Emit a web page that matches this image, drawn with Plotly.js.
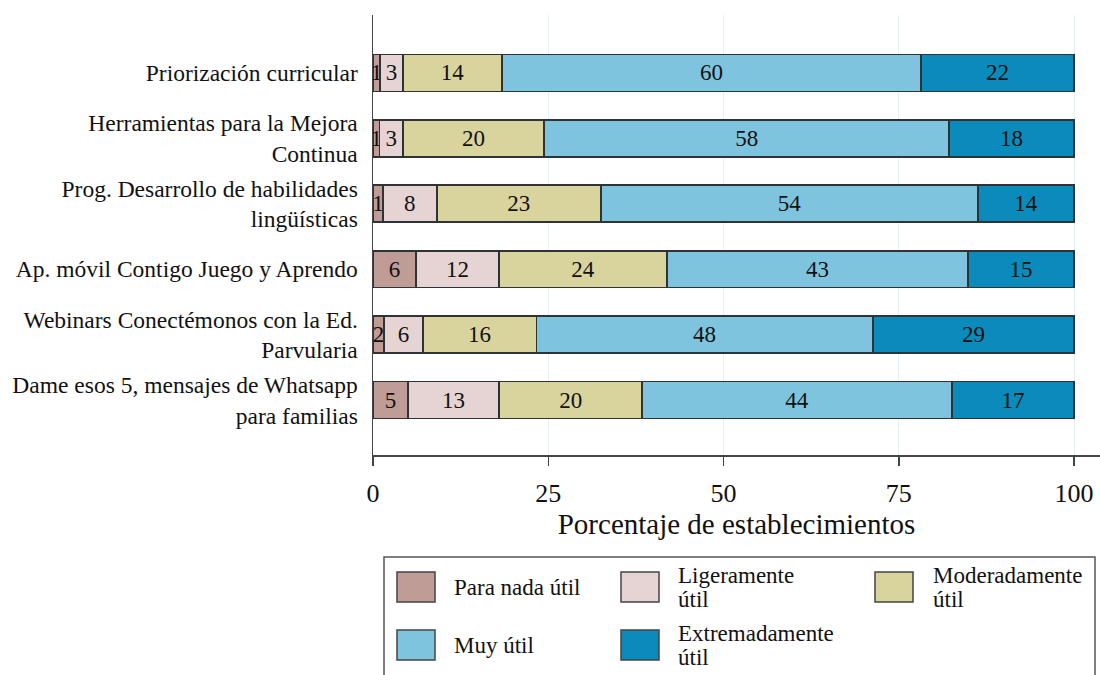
<!DOCTYPE html>
<html>
<head>
<meta charset="utf-8">
<script src="https://cdn.plot.ly/plotly-3.0.1.min.js"></script>
<style>html,body{margin:0;padding:0;background:#fff;}#chart{width:1100px;height:675px;}</style>
</head>
<body>
<div id="chart"></div>
<script>
// ---- data ----
var categories = [
  "Priorización curricular",
  "Herramientas para la Mejora<br>Continua",
  "Prog. Desarrollo de habilidades<br>lingüísticas",
  "Ap. móvil Contigo Juego y Aprendo",
  "Webinars Conectémonos con la Ed.<br>Parvularia",
  "Dame esos 5, mensajes de Whatsapp<br>para familias"
];
var seriesNames = ["Para nada útil", "Ligeramente útil", "Moderadamente útil", "Muy útil", "Extremadamente útil"];
var legendLabels = [["Para nada útil"], ["Ligeramente", "útil"], ["Moderadamente", "útil"], ["Muy útil"], ["Extremadamente", "útil"]];
var paraNada      = [1.0, 0.9, 1.4, 6.1, 1.6, 5.0];
var ligeramente   = [3.3, 3.4, 7.7, 11.9, 5.5, 13.0];
var moderadamente = [14.1, 20.1, 23.4, 23.9, 16.2, 20.4];
var muyUtil       = [59.8, 57.8, 53.8, 43.0, 48.0, 44.2];
var extremadamente= [21.8, 17.8, 13.7, 15.1, 28.7, 17.4];
var xTickVals = [0, 25, 50, 75, 100];

// ---- styles ----
var colors = ["#c09c96", "#e6d4d4", "#d9d39e", "#7fc4df", "#0a8bbb"];
var values = [paraNada, ligeramente, moderadamente, muyUtil, extremadamente];
var FONT = "'Liberation Serif', 'DejaVu Serif', 'Times New Roman', serif";

var W = 1100, H = 675, ML = 373, MR = 0, MT = 15, MB = 220;
var PW = W - ML - MR, PH = H - MT - MB;
function px(x) { return (x - ML) / PW; }
function py(y) { return (H - MB - y) / PH; }

var traces = values.map(function (v, i) {
  return {
    type: "bar",
    orientation: "h",
    name: seriesNames[i],
    y: categories,
    x: v,
    width: 0.565,
    marker: { color: colors[i], line: { color: "#2e3436", width: 1.6 } },
    texttemplate: "%{x:.0f}",
    textposition: "inside",
    insidetextanchor: "middle",
    textangle: 0,
    constraintext: "none",
    insidetextfont: { family: FONT, size: 23, color: "#111" },
    hoverinfo: "x+name",
    showlegend: false
  };
});

// ---- custom legend (shapes + annotations) ----
var shapes = [{
  type: "rect", xref: "paper", yref: "paper",
  x0: px(384), x1: px(1095), y0: py(700), y1: py(557),
  line: { color: "#555", width: 1.5 }, fillcolor: "rgba(0,0,0,0)"
}];
var annotations = [];
var legendPos = [
  { sx: 397, ty: 587, tx: 452 },
  { sx: 621, ty: 587, tx: 676 },
  { sx: 875, ty: 587, tx: 931 },
  { sx: 397, ty: 645, tx: 452 },
  { sx: 621, ty: 645, tx: 676 }
];
legendPos.forEach(function (p, i) {
  shapes.push({
    type: "rect", xref: "paper", yref: "paper",
    x0: px(p.sx), x1: px(p.sx + 38), y0: py(p.ty + 15), y1: py(p.ty - 15),
    fillcolor: colors[i], line: { color: "#444", width: 1.5 }
  });
  var lines = legendLabels[i];
  lines.forEach(function (t, k) {
    var yc = lines.length === 1 ? p.ty : p.ty - 12 + 24 * k;
    annotations.push({
      xref: "paper", yref: "paper", x: px(p.tx), y: py(yc),
      xanchor: "left", yanchor: "middle", text: t, showarrow: false,
      font: { family: FONT, size: 23, color: "#111" }
    });
  });
});

var layout = {
  width: W, height: H,
  margin: { l: ML, r: MR, t: MT, b: MB, pad: 0 },
  paper_bgcolor: "#fff", plot_bgcolor: "#fff",
  barmode: "stack",
  font: { family: FONT, color: "#111" },
  xaxis: {
    range: [0, 100 * PW / 701],
    tickvals: xTickVals,
    ticks: "outside", ticklen: 9, tickwidth: 1.5, tickcolor: "#444",
    showline: true, linecolor: "#444", linewidth: 1.5,
    showgrid: true, gridcolor: "#e6eff1", gridwidth: 1,
    zeroline: false,
    tickfont: { family: FONT, size: 26, color: "#111" },
    ticklabelstandoff: 5,
    title: { text: "Porcentaje de establecimientos", font: { family: FONT, size: 29, color: "#111" }, standoff: 0 },
    automargin: false,
    fixedrange: true
  },
  yaxis: {
    type: "category",
    autorange: false,
    range: [5.84, -0.885],
    showline: true, linecolor: "#444", linewidth: 1.5,
    ticks: "", showgrid: false, zeroline: false,
    tickfont: { family: FONT, size: 23.5, color: "#111" },
    ticklabelstandoff: 9,
    automargin: false,
    fixedrange: true
  },
  shapes: shapes,
  annotations: annotations,
  showlegend: false
};

Plotly.newPlot("chart", traces, layout, { displayModeBar: false, staticPlot: true });
</script>
</body>
</html>
